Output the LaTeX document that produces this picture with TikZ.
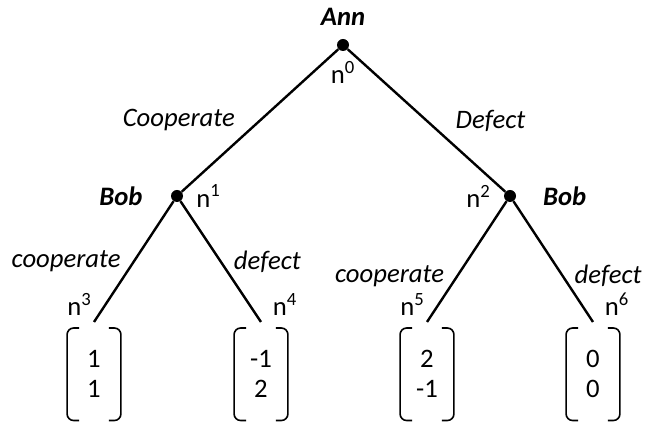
\documentclass[tikz,border=0pt]{standalone}
\usepackage{fontspec}
\setmainfont{Carlito}
\usetikzlibrary{positioning}

\begin{document}
\fontsize{20}{22.5}\selectfont
\begin{tikzpicture}[x=0.75pt, y=-0.75pt,
    dot/.style={circle, fill=black, inner sep=0pt, minimum size=9pt},
    edge/.style={draw=black, line width=1.8pt},
    move/.style={font=\itshape, inner sep=0pt},
    player/.style={font=\bfseries\itshape, inner sep=0pt},
    payoff/.style={minimum width=40pt, minimum height=69pt, inner sep=0pt, align=center},
    bracket/.style={line width=1.2pt, rounded corners=5pt}]
  \useasboundingbox (0,0) rectangle (647,423);
  % decision nodes
  \node[dot, label={[player, label distance=10pt]above:Ann}, label={[label distance=1pt]below:n\textsuperscript{0}}] (n0) at (343,45) {};
  \node[dot, label={[player, label distance=21pt]left:Bob}, label={[label distance=3pt]right:n\textsuperscript{1}}] (n1) at (177,196) {};
  \node[dot, label={[player, label distance=20pt]right:Bob}, label={[label distance=3pt]left:n\textsuperscript{2}}] (n2) at (510,196) {};
  % terminal nodes
  \coordinate (n3) at (94,322);
  \coordinate (n4) at (261,322);
  \coordinate (n5) at (427,322);
  \coordinate (n6) at (593,322);
  \node[above left=-2pt and -5pt of n3] (l3) {n\textsuperscript{3}};
  \node[above right=-2pt and 2pt of n4] (l4) {n\textsuperscript{4}};
  \node[above left=-2pt and -5pt of n5] (l5) {n\textsuperscript{5}};
  \node[above right=-2pt and 2pt of n6] (l6) {n\textsuperscript{6}};
  % payoffs
  \node[payoff, below=4.5pt of n3] (p3) {1\\1};
  \node[payoff, below=4.5pt of n4] (p4) {-1\\2};
  \node[payoff, below=4.5pt of n5] (p5) {2\\-1};
  \node[payoff, below=4.5pt of n6] (p6) {0\\0};
  \foreach \p in {p3,p4,p5,p6} {
    \draw[bracket] ([xshift=9pt]\p.north west) -- (\p.north west) -- (\p.south west) -- ([xshift=9pt]\p.south west);
    \draw[bracket] ([xshift=-9pt]\p.north east) -- (\p.north east) -- (\p.south east) -- ([xshift=-9pt]\p.south east);
  }
  % moves
  \draw[edge] (n0) -- node[move, pos=0.5, left=18pt] {Cooperate} (n1);
  \draw[edge] (n0) -- node[move, pos=0.5, right=21pt] {Defect} (n2);
  \draw[edge] (n1) -- node[move, pos=0.5, left=9pt] {cooperate} (n3);
  \draw[edge] (n1) -- node[move, pos=0.5, right=9pt] {defect} (n4);
  \draw[edge] (n2) -- node[move, pos=0.62, left=9pt] {cooperate} (n5);
  \draw[edge] (n2) -- node[move, pos=0.62, right=8pt] {defect} (n6);
\end{tikzpicture}
\end{document}
